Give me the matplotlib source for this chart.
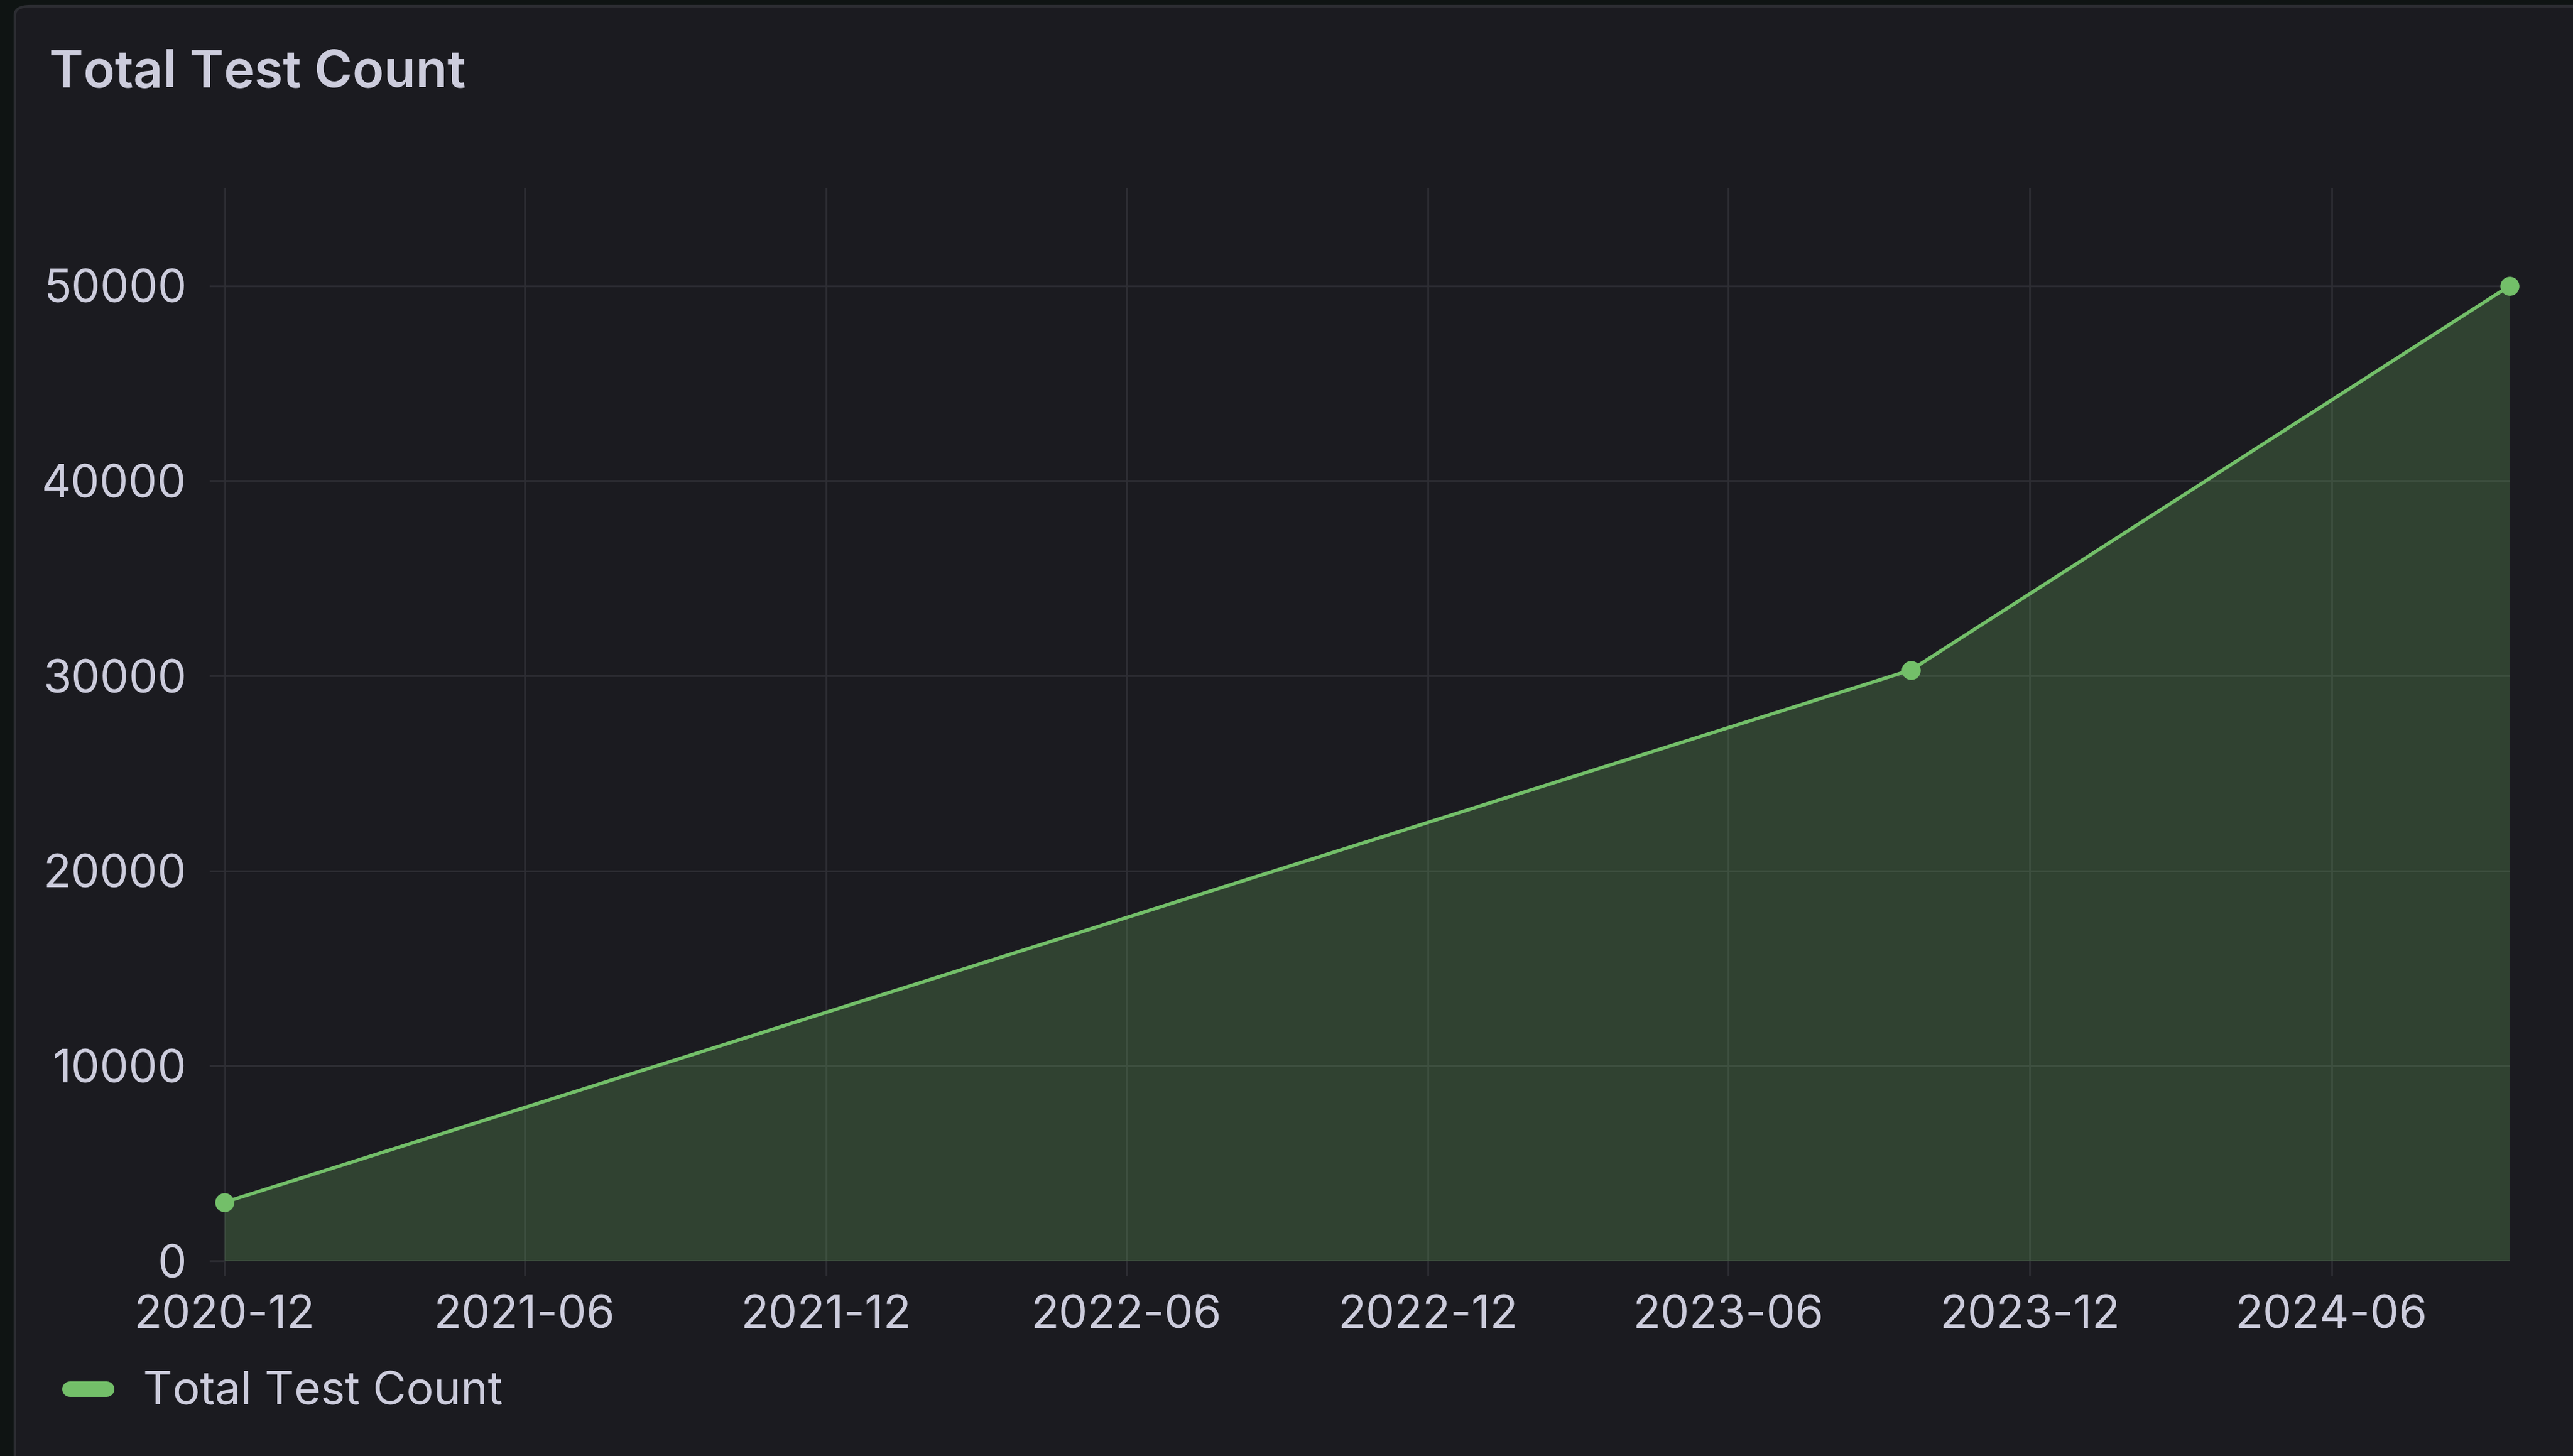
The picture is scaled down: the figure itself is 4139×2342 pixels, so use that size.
import matplotlib
matplotlib.use("Agg")
import matplotlib.pyplot as plt
import matplotlib.dates as mdates
from matplotlib.lines import Line2D
from matplotlib.patches import FancyBboxPatch
import numpy as np

# data
dates = np.array(["2020-12-01", "2023-09-20", "2024-09-17"], dtype="datetime64[D]")
test_counts = [3000, 30300, 50000]
y_ticks = [0, 10000, 20000, 30000, 40000, 50000]
series_name = "Total Test Count"
panel_title = "Total Test Count"

# grafana-ish dark theme colours
OUTER_BG = "#0f1413"
PANEL_BG = "#1b1b20"
PANEL_EDGE = "#2c2d32"
GRID = "#2e2e34"
TEXT = "#ccccdc"
GREEN = "#73bf69"

W, H, DPI = 4139, 2342, 100
plt.rcParams["font.family"] = ["Inter", "DejaVu Sans"]

fig = plt.figure(figsize=(W / DPI, H / DPI), dpi=DPI, facecolor=OUTER_BG)

# panel background with rounded corner (runs off right/bottom edge)
panel = FancyBboxPatch((24 / W, -0.05), 1.2, 1 - 10 / H + 0.05,
                       boxstyle="round,pad=0,rounding_size=0.006",
                       transform=fig.transFigure, facecolor=PANEL_BG,
                       edgecolor=PANEL_EDGE, linewidth=3, zorder=-10)
fig.patches.append(panel)

ax = fig.add_axes([361 / W, 1 - 2028 / H, (4037 - 361) / W, (2028 - 303) / H])
ax.set_facecolor("none")

x = mdates.date2num(dates)
ax.fill_between(x, test_counts, 0, color=GREEN, alpha=0.24, linewidth=0, zorder=2)
ax.plot(x, test_counts, color=GREEN, linewidth=4, marker="o", markersize=22,
        markeredgewidth=0, zorder=3, clip_on=False)

ax.set_xlim(x[0], x[-1])
ax.set_ylim(0, 55000)
ax.set_yticks(y_ticks)
ax.yaxis.set_major_formatter(matplotlib.ticker.FuncFormatter(lambda v, p: f"{int(v)}"))
ax.xaxis.set_major_locator(mdates.MonthLocator(bymonth=[6, 12]))
ax.xaxis.set_major_formatter(mdates.DateFormatter("%Y-%m"))

ax.grid(True, color=GRID, linewidth=2)
ax.set_axisbelow(True)
for s in ax.spines.values():
    s.set_visible(False)
ax.tick_params(axis="both", colors=GRID, length=17, width=2, labelcolor=TEXT,
               labelsize=53)
ax.tick_params(axis="y", pad=27)
ax.tick_params(axis="x", pad=22)

fig.text(79 / W, 1 - 140 / H, panel_title, color=TEXT, fontsize=60,
         fontweight="semibold", va="baseline", ha="left")

handle = Line2D([], [], color=GREEN, linewidth=18, solid_capstyle="round")
ax.legend([handle], [series_name], loc="center left",
          bbox_to_anchor=(112 / W, 1 - 2240 / H), bbox_transform=fig.transFigure,
          frameon=False, fontsize=53, labelcolor=TEXT, borderpad=0,
          borderaxespad=0, handlelength=0.8, handletextpad=0.8)

fig.savefig("out.png", dpi=DPI, facecolor=OUTER_BG)
